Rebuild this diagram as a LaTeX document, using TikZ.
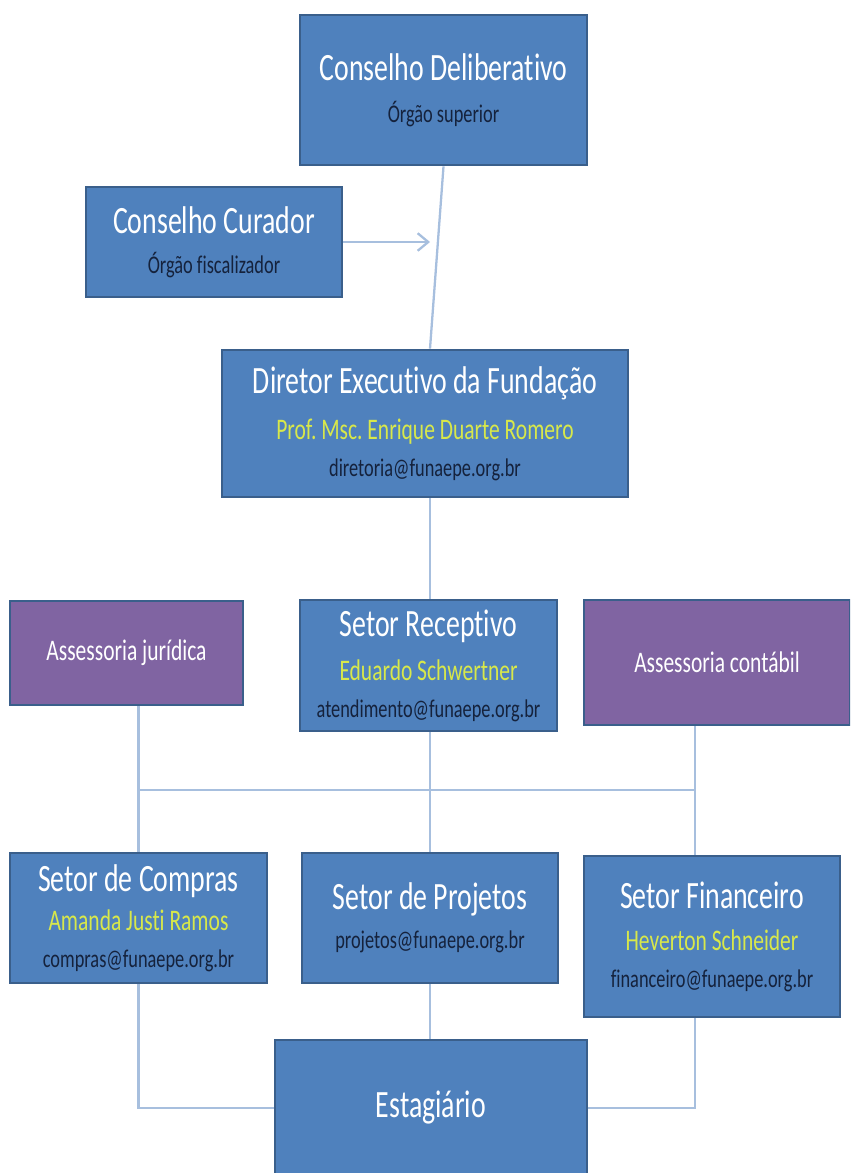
\documentclass[tikz,border=0pt]{standalone}
\usepackage{fontspec}
\setmainfont{Carlito}[FakeStretch=0.72, Ligatures=NoCommon]
\usepackage{tikz}
\usetikzlibrary{arrows.meta, positioning, calc}
\frenchspacing

\definecolor{boxblue}{HTML}{4F81BD}
\definecolor{boxedge}{HTML}{3A5F8B}
\definecolor{boxpurple}{HTML}{8064A2}
\definecolor{linkblue}{HTML}{A7BFDE}
\definecolor{nameyellow}{HTML}{D8E84A}
\definecolor{maildark}{HTML}{15223C}

\newcommand{\ttl}{\fontsize{22}{22}\selectfont\color{white}}
\newcommand{\who}{\fontsize{17}{17}\selectfont\color{nameyellow}}

\begin{document}
\begin{tikzpicture}[x=0.02cm, y=-0.02cm, >={Straight Barb[length=6pt,width=10pt]},
    box/.style={draw=boxedge, line width=1.6pt, fill=boxblue, inner sep=0pt,
      align=center, text=maildark, font=\fontsize{14.5}{21}\selectfont},
    asbox/.style={box, fill=boxpurple, text=white, font=\fontsize{17}{21}\selectfont},
    link/.style={draw=linkblue, line width=1.3pt}]

    % 1. Seitenrahmen
    \useasboundingbox (0,0) rectangle (850,1173);
    \clip (0,0) rectangle (850,1173);

    % 2. Leitung
    \node[box, minimum width=5.74cm, minimum height=3cm] (delib) at (443.5,90)
      {{\ttl Conselho Deliberativo}\\[3pt] Órgão superior};
    \node[box, minimum width=5.12cm, minimum height=2.2cm] (curador) at (214,242)
      {{\ttl Conselho Curador}\\[2pt] Órgão fiscalizador};
    \node[box, minimum width=8.12cm, minimum height=2.94cm] (diretor) at (425,423.5)
      {{\ttl Diretor Executivo da Fundação}\\[5pt]
       {\who Prof. Msc. Enrique Duarte Romero}\\ diretoria@funaepe.org.br};

    % 3. mittlere Ebene
    \node[asbox, minimum width=4.66cm, minimum height=2.08cm] (jurid) at (126.5,653)
      {Assessoria jurídica};
    \node[box, minimum width=5.14cm, minimum height=2.62cm] (recep) at (428.5,665.5)
      {{\ttl Setor Receptivo}\\[4pt]
       {\who Eduardo Schwertner}\\ atendimento@funaepe.org.br};
    \node[asbox, minimum width=5.32cm, minimum height=2.5cm] (contab) at (717,662.5)
      {Assessoria contábil};

    % 4. Setores
    \node[box, minimum width=5.14cm, minimum height=2.6cm] (compras) at (138.5,918)
      {{\ttl Setor de Compras}\\[1pt]
       {\who Amanda Justi Ramos}\\ compras@funaepe.org.br};
    \node[box, minimum width=5.12cm, minimum height=2.6cm] (projetos) at (430,918)
      {{\ttl Setor de Projetos}\\[1pt] projetos@funaepe.org.br};
    \node[box, minimum width=5.12cm, minimum height=3.22cm] (financ) at (712,936.5)
      {{\ttl Setor Financeiro}\\[3pt]
       {\who Heverton Schneider}\\ financeiro@funaepe.org.br};
    \node[box, minimum width=6.24cm, minimum height=2.72cm] (estag) at (431,1108)
      {\ttl Estagiário};

    % 5. Verbindungen
    \coordinate (spine) at (430,0);
    \coordinate (bus) at (430,790);
    \coordinate (rdrop) at (695,790);
    \coordinate (cjoin) at (430,242);
    \draw[link] (delib.south) -- (diretor.north -| spine);
    \draw[link, ->] (curador.east) -- (cjoin);
    \draw[link] (diretor.south -| spine) -- (recep.north -| spine);
    \draw[link] (recep.south -| spine) -- (projetos.north -| spine);
    \draw[link] (projetos.south -| spine) -- (estag.north -| spine);
    \draw[link] (jurid.south -| compras.north) -- (compras.north);
    \draw[link] (contab.south -| rdrop) -- (financ.north -| rdrop);
    \draw[link] (compras.north |- bus) -- (rdrop);
    \draw[link] (compras.south) |- (estag.west);
    \draw[link] (financ.south -| rdrop) |- (estag.east);

\end{tikzpicture}
\end{document}
